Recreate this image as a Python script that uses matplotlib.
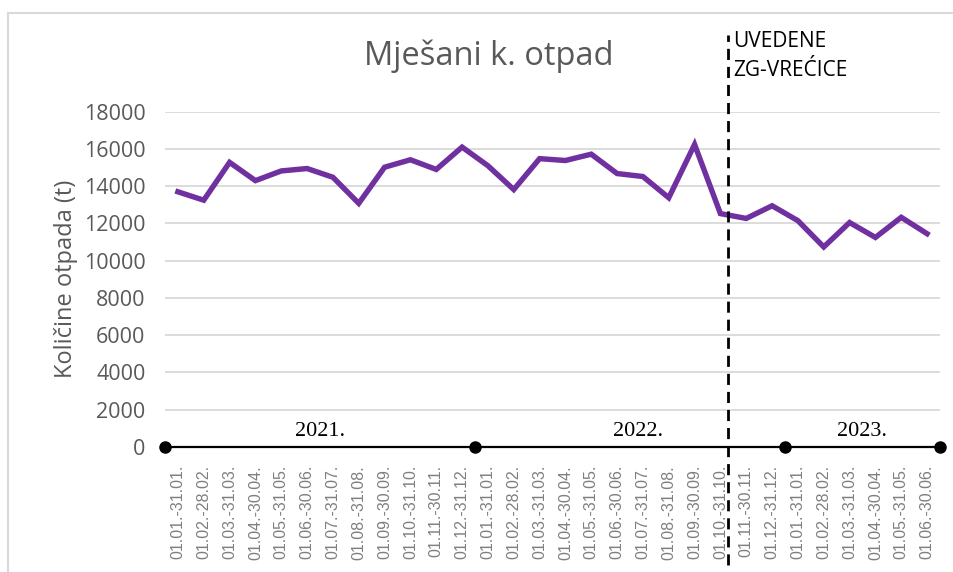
import matplotlib.pyplot as plt
from matplotlib.patches import Rectangle

# monthly mixed municipal waste (t)
periods = ['01.01.-31.01.', '01.02.-28.02.', '01.03.-31.03.', '01.04.-30.04.',
           '01.05.-31.05.', '01.06.-30.06.', '01.07.-31.07.', '01.08.-31.08.',
           '01.09.-30.09.', '01.10.-31.10.', '01.11.-30.11.', '01.12.-31.12.']
labels = periods + periods + periods[:6]
values = [13700, 13250, 15280, 14300, 14820, 14950, 14480, 13080, 15020, 15420, 14900, 16100,
          15100, 13820, 15480, 15380, 15720, 14680, 14520, 13380, 16240, 12530,
          12270, 12950, 12150, 10740, 12050, 11250, 12330, 11450]
years = ['2021.', '2022.', '2023.']
year_starts = [0, 12, 24, 30]
year_label_x = [5.5, 17.8, 26.5]
intervention_x = 21.3
yticks = list(range(0, 18001, 2000))

GRAY = '#595959'

fig = plt.figure(figsize=(9.54, 5.72), dpi=100)
ax = fig.add_axes([165/954, 1-447/572, 775/954, 335.3/572])

x = list(range(len(values)))
ax.plot(x, values, color='#7030A0', lw=3.9, solid_joinstyle='miter', zorder=3)

ax.set_xlim(-0.5, len(values) - 0.5)
ax.set_ylim(0, 18000)
ax.set_yticks(yticks)
ax.set_yticklabels([str(t) for t in yticks], fontsize=15.5, color=GRAY, family='Open Sans')
ax.set_xticks(x)
ax.set_xticklabels(labels, rotation=90, fontsize=11.5, color='#7f7f7f',
                   family='Liberation Sans', va='top')
ax.tick_params(axis='both', length=0)
ax.tick_params(axis='y', pad=14)
ax.tick_params(axis='x', pad=13)
ax.grid(axis='y', color='#D9D9D9', lw=1.3)
for s in ax.spines.values():
    s.set_visible(False)

ax.set_ylabel('Količine otpada (t)', fontsize=17, color=GRAY, family='Open Sans', labelpad=4)

# year timeline along the x axis
bounds = [s - 0.5 for s in year_starts]
ax.plot([bounds[0], bounds[-1]], [0, 0], color='black', lw=1.6, clip_on=False, zorder=4)
ax.plot(bounds, [0] * len(bounds), 'o', color='black', ms=8, clip_on=False, zorder=5)
for xl, yr in zip(year_label_x, years):
    ax.annotate(yr, (xl, 0), xytext=(0, 4), textcoords='offset points', ha='center',
                va='bottom', fontsize=16, family='Liberation Serif', color='black')

# intervention marker
ax.axvline(intervention_x, ymin=-0.352, ymax=1.229, color='black', lw=2,
           dashes=(4, 2.5), clip_on=False, zorder=6)
fig.text(733/954, 1-31/572, 'UVEDENE\nZG-VREĆICE', ha='left', va='top', fontsize=15,
         family='Open Sans', color='black', linespacing=1.5)

fig.text(489/954, 1-56/572, 'Mješani k. otpad', ha='center', va='center', fontsize=23.5,
         family='Open Sans', color=GRAY)

# chart area border (cropped on the right and bottom)
fig.patches.append(Rectangle((8/954, -0.1), 1.2, 1-13/572 + 0.1, transform=fig.transFigure,
                             fill=False, ec='#D9D9D9', lw=1.5))

fig.savefig('out.png', dpi=100)
